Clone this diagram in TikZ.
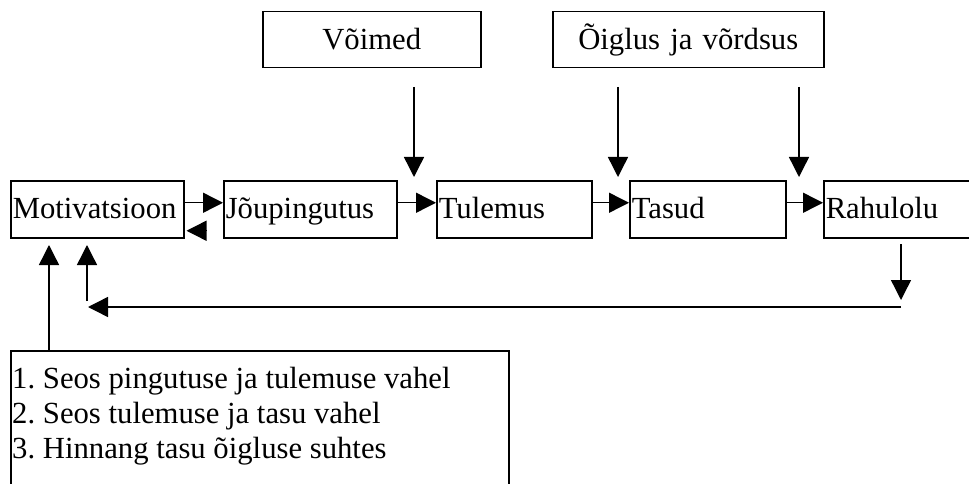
\documentclass[tikz,border=0pt]{standalone}
\usepackage{fontspec}
\setmainfont{Liberation Serif}
\usetikzlibrary{arrows.meta}
\frenchspacing
\begin{document}
\begin{tikzpicture}[x=1pt,y=-1pt,
  every node/.style={font=\fontsize{30.7pt}{35pt}\selectfont},
  mainbox/.style={draw, line width=1.5pt, anchor=north west, minimum height=57pt,
     inner xsep=2pt, inner ysep=0pt, text height=24pt, text depth=5pt, align=left},
  topbox/.style={draw, line width=1.5pt, anchor=north west, minimum height=56pt,
     inner xsep=0pt, inner ysep=0pt, text height=24pt, text depth=5pt, align=center},
  arr/.style={line width=1.4pt, -{Triangle[length=20pt,width=20pt]}}
]
\useasboundingbox (0,0) rectangle (969,484);

% top boxes
\node[topbox, text width=218pt] (voi) at (262,11) {Võimed};
\node[topbox, text width=271pt] (oig) at (552,11) {Õiglus ja võrdsus};

% main row
\node[mainbox, text width=169pt] (mot) at (10,180) {Motivatsioon};
\node[mainbox, text width=169pt] (jou) at (223,180) {Jõupingutus};
\node[mainbox, text width=151pt] (tul) at (436,180) {Tulemus};
\node[mainbox, text width=152pt] (tas) at (629,180) {Tasud};
\node[mainbox, text width=160pt] (rah) at (823,180) {Rahulolu};

% bottom box
\node[draw, line width=1.5pt, anchor=north west, inner xsep=1.5pt, inner ysep=16.5pt] (list) at (10,350)
  {\parbox[t][120pt][t]{495pt}{\frenchspacing\baselineskip=35pt 1. Seos pingutuse ja tulemuse vahel\\
   2. Seos tulemuse ja tasu vahel\\
   3. Hinnang tasu õigluse suhtes}};

% horizontal arrows
\draw[arr] ([yshift=6.5pt]mot.east) -- ([yshift=6.5pt]jou.west);
\draw[arr] ([yshift=-21.5pt,xshift=22pt]mot.east) -- ([yshift=-21.5pt,xshift=2pt]mot.east);
\draw[arr] ([yshift=6.5pt]jou.east) -- ([yshift=6.5pt]tul.west);
\draw[arr] ([yshift=6.5pt]tul.east) -- ([yshift=6.5pt]tas.west);
\draw[arr] ([yshift=6.5pt]tas.east) -- ([yshift=6.5pt]rah.west);

% vertical arrows from top boxes
\coordinate (v1s) at (414,87);  \coordinate (v1e) at (414,177);
\coordinate (v2s) at (618,87);  \coordinate (v2e) at (618,177);
\coordinate (v3s) at (799,87);  \coordinate (v3e) at (799,177);
\draw[arr] (v1s) -- (v1e);
\draw[arr] (v2s) -- (v2e);
\draw[arr] (v3s) -- (v3e);

% feedback
\coordinate (r1) at (901,244); \coordinate (r2) at (901,300);
\draw[arr] (r1) -- (r2);
\coordinate (f1) at (901,307); \coordinate (f2) at (88,307);
\draw[arr] (f1) -- (f2);
\coordinate (u1) at (87,301); \coordinate (u2) at (87,245);
\draw[arr] (u1) -- (u2);
\coordinate (w1) at (49,350); \coordinate (w2) at (49,245);
\draw[arr] (w1) -- (w2);
\end{tikzpicture}
\end{document}
